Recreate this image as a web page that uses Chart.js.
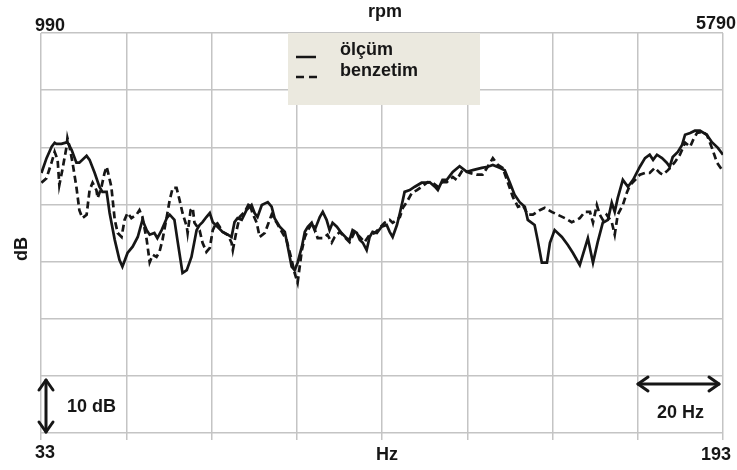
<!DOCTYPE html>
<html>
<head>
<meta charset="utf-8">
<script src="https://cdn.jsdelivr.net/npm/chart.js@4.4.1/dist/chart.umd.min.js"></script>
<style>
  html, body { margin: 0; padding: 0; background: #fff; }
  #wrap { width: 737px; height: 470px; }
</style>
</head>
<body>
<div id="wrap"><canvas id="c" width="737" height="470"></canvas></div>
<script>
// ölçüm (measurement) — solid line
const hzSolid = [33.1, 34.3, 35.5, 36.2, 36.6, 37.8, 39.2, 40.2, 41.3, 42.0, 43.7, 44.4, 45.6, 46.7, 47.4, 48.4, 49.1, 50.3, 51.4, 52.1,
  53.3, 54.5, 55.7, 56.8, 57.8, 58.5, 59.6, 60.3, 61.3, 62.5, 63.2, 64.3, 65.0, 66.2, 67.2, 68.3, 69.5, 70.2, 70.9, 71.8,
  72.6, 73.3, 74.4, 75.6, 76.8, 77.7, 78.4, 79.1, 80.1, 81.2, 82.4, 83.1, 83.8, 84.8, 86.2, 87.1, 87.8, 89.0, 90.2, 90.9,
  91.8, 92.5, 93.2, 94.2, 94.9, 95.6, 96.5, 97.2, 98.4, 99.1, 100.0, 100.7, 101.4, 102.4, 103.5, 104.7, 105.4, 106.1, 107.1, 107.8,
  108.5, 109.4, 110.1, 110.8, 111.8, 112.9, 114.1, 114.8, 115.5, 116.5, 117.2, 117.9, 118.3, 119.5, 120.7, 122.3, 123.5, 124.2, 125.4, 126.1,
  127.2, 128.2, 129.6, 131.2, 132.9, 134.3, 136.4, 137.8, 139.0, 140.6, 141.8, 143.0, 144.1, 145.3, 146.5, 147.2, 148.8, 149.5, 150.5, 151.7,
  152.4, 153.5, 155.2, 156.6, 157.8, 159.4, 161.3, 162.5, 163.6, 164.8, 166.0, 166.9, 167.6, 168.3, 169.5, 170.7, 171.9, 173.5, 174.7, 175.8,
  176.6, 177.5, 178.7, 179.8, 180.5, 181.2, 182.4, 183.4, 184.1, 185.3, 186.4, 187.6, 189.2, 190.4, 191.8, 193.0];
const dbSolid = [45.5, 48.1, 50.1, 50.8, 50.6, 50.6, 50.9, 49.5, 47.3, 47.3, 48.5, 47.8, 45.5, 43.1, 42.2, 42.2, 38.5, 33.8, 30.3, 29.1,
  31.5, 32.6, 34.3, 37.3, 35.5, 34.7, 35.0, 34.1, 35.5, 37.6, 38.2, 37.3, 33.8, 28.0, 28.5, 30.8, 35.5, 36.4, 36.9, 37.8,
  38.5, 36.9, 36.1, 35.2, 34.7, 34.3, 36.9, 37.6, 37.3, 39.0, 39.9, 38.5, 37.8, 39.9, 40.4, 39.6, 37.6, 36.1, 35.2, 32.6,
  29.1, 28.5, 29.8, 32.6, 35.2, 36.1, 36.8, 35.5, 37.8, 38.7, 37.3, 35.5, 36.8, 36.1, 35.0, 34.1, 33.8, 35.5, 35.0, 33.8,
  33.3, 32.0, 34.3, 35.2, 35.0, 36.1, 36.4, 35.2, 34.3, 36.4, 38.5, 40.8, 42.2, 42.5, 43.1, 43.8, 43.8, 43.9, 43.1, 42.5,
  44.3, 44.3, 45.7, 46.7, 45.7, 46.0, 46.4, 46.6, 46.9, 46.4, 46.0, 43.8, 41.7, 40.4, 39.6, 37.3, 36.4, 33.8, 29.8, 29.8,
  33.3, 35.5, 34.3, 32.9, 31.5, 29.4, 34.1, 29.8, 33.4, 36.8, 37.3, 40.3, 38.7, 41.1, 44.3, 43.1, 44.3, 46.6, 48.1, 48.7,
  47.8, 48.7, 48.1, 47.3, 46.6, 48.3, 49.2, 50.4, 52.2, 52.5, 52.9, 52.9, 52.2, 50.9, 49.9, 48.7];

// benzetim (simulation) — dashed line
const hzDashed = [33.1, 34.3, 35.5, 36.2, 36.9, 37.3, 38.0, 39.0, 39.2, 39.7, 40.4, 41.3, 42.0, 42.7, 43.7, 44.4, 45.1, 46.0, 46.3, 47.2,
  47.9, 48.4, 48.6, 49.5, 50.3, 51.0, 51.9, 52.6, 53.3, 54.2, 55.4, 56.1, 56.8, 57.8, 58.5, 59.2, 60.1, 60.8, 61.5, 62.5,
  63.2, 63.9, 64.8, 65.5, 66.2, 67.2, 67.4, 68.1, 68.6, 69.0, 70.2, 70.9, 71.8, 72.6, 73.3, 74.2, 74.9, 75.6, 76.8, 77.7,
  78.0, 78.9, 79.6, 80.8, 81.9, 82.6, 83.6, 84.3, 85.5, 86.2, 87.1, 88.3, 89.5, 90.6, 91.8, 92.5, 93.2, 94.2, 94.9, 95.6,
  96.7, 97.9, 99.1, 100.2, 101.2, 101.9, 103.1, 104.2, 105.4, 106.6, 107.8, 108.9, 110.1, 111.3, 112.5, 113.6, 114.8, 115.5, 116.5, 117.2,
  117.9, 118.8, 120.0, 121.2, 122.3, 123.7, 124.9, 126.1, 127.2, 128.2, 129.6, 130.5, 131.9, 133.6, 135.2, 136.6, 137.8, 139.0, 140.2, 141.3,
  142.5, 143.7, 144.9, 146.0, 147.2, 148.4, 150.0, 151.2, 152.8, 154.2, 155.9, 157.5, 158.7, 159.4, 160.6, 161.8, 162.5, 163.4, 164.1, 164.8,
  165.7, 166.9, 167.6, 168.3, 169.5, 170.5, 171.2, 172.4, 173.5, 174.7, 175.8, 177.0, 178.2, 178.9, 180.1, 181.7, 182.9, 184.1, 185.3, 186.0,
  186.9, 188.1, 189.2, 190.4, 191.6, 192.8];
const dbDashed = [43.8, 44.6, 47.4, 49.2, 47.8, 43.4, 46.0, 50.1, 51.6, 50.1, 47.3, 43.1, 39.0, 37.6, 38.2, 42.5, 43.8, 42.5, 41.1, 43.1,
  45.5, 46.6, 46.0, 43.1, 37.3, 35.0, 34.3, 37.3, 38.5, 37.6, 38.2, 39.0, 37.8, 33.8, 29.9, 31.2, 30.8, 31.7, 33.8, 37.8,
  40.8, 42.9, 42.9, 40.8, 38.5, 36.1, 35.0, 39.0, 39.4, 36.8, 35.5, 33.3, 31.7, 32.4, 35.5, 36.9, 36.1, 35.2, 34.7, 33.3,
  32.0, 35.5, 37.8, 38.7, 40.3, 38.5, 36.8, 34.3, 35.0, 36.4, 38.2, 36.8, 35.2, 33.8, 30.3, 28.0, 26.3, 32.0, 34.3, 35.5,
  36.8, 34.1, 34.1, 34.7, 33.3, 34.3, 35.2, 34.3, 33.4, 35.2, 34.3, 33.4, 34.7, 35.0, 35.9, 36.8, 37.3, 36.8, 37.3, 37.8,
  39.4, 40.4, 42.0, 42.5, 43.1, 43.9, 43.8, 43.1, 43.9, 43.9, 44.8, 44.3, 46.0, 45.5, 45.2, 45.2, 46.6, 48.1, 46.9, 46.4,
  43.9, 41.3, 39.6, 39.9, 38.2, 38.2, 39.0, 39.4, 38.7, 38.2, 37.6, 36.9, 37.3, 37.6, 38.7, 38.7, 36.8, 39.9, 38.2, 37.3,
  38.2, 36.9, 34.7, 38.2, 39.9, 42.2, 43.4, 44.3, 45.2, 45.5, 45.5, 46.4, 45.5, 45.2, 46.0, 47.4, 48.7, 50.8, 50.1, 51.3,
  52.5, 52.7, 52.2, 49.9, 47.3, 46.0];

const seriesNames = ['ölçüm', 'benzetim'];
const hzEnds = ['33', '193'];
const rpmEnds = ['990', '5790'];

const INK = '#161616';
const FONT = 'bold 18px "Liberation Sans", Arial, sans-serif';

function pts(xs, ys) {
  return xs.map((x, i) => ({ x: x, y: ys[i] }));
}

function arrowHead(ctx, x, y, dx, dy) {
  // open V head pointing along (dx, dy)
  const len = 10, w = 7;
  ctx.beginPath();
  ctx.moveTo(x - dx * len + dy * w, y - dy * len + dx * w);
  ctx.lineTo(x, y);
  ctx.lineTo(x - dx * len - dy * w, y - dy * len - dx * w);
  ctx.stroke();
}

const overlay = {
  id: 'overlay',
  afterDraw(chart) {
    const ctx = chart.ctx;
    const a = chart.chartArea;
    ctx.save();

    // legend box
    ctx.fillStyle = '#ebe9df';
    ctx.fillRect(288, a.top, 192, 72);
    ctx.strokeStyle = INK;
    ctx.lineWidth = 2.5;
    ctx.beginPath();
    ctx.moveTo(296, 57); ctx.lineTo(316, 57);
    ctx.stroke();
    ctx.setLineDash([8, 5]);
    ctx.beginPath();
    ctx.moveTo(296, 77); ctx.lineTo(320, 77);
    ctx.stroke();
    ctx.setLineDash([]);

    ctx.fillStyle = INK;
    ctx.font = FONT;
    ctx.textBaseline = 'alphabetic';
    ctx.textAlign = 'left';
    ctx.fillText(seriesNames[0], 340, 55);
    ctx.fillText(seriesNames[1], 340, 76);

    // axis end labels
    ctx.fillText(rpmEnds[0], 35, 31);
    ctx.fillText(hzEnds[0], 35, 458);
    ctx.textAlign = 'right';
    ctx.fillText(rpmEnds[1], 736, 29);
    ctx.fillText(hzEnds[1], 731, 460);
    ctx.textAlign = 'center';
    ctx.fillText('rpm', 385, 17);
    ctx.fillText('Hz', 387, 460);

    // y axis title
    ctx.save();
    ctx.translate(27, 249);
    ctx.rotate(-Math.PI / 2);
    ctx.fillText('dB', 0, 0);
    ctx.restore();

    // scale arrows
    ctx.lineWidth = 3;
    ctx.lineCap = 'round';
    ctx.lineJoin = 'round';
    ctx.beginPath();
    ctx.moveTo(46, 380); ctx.lineTo(46, 432);
    ctx.stroke();
    arrowHead(ctx, 46, 380, 0, -1);
    arrowHead(ctx, 46, 432, 0, 1);
    ctx.beginPath();
    ctx.moveTo(638, 384); ctx.lineTo(719, 384);
    ctx.stroke();
    arrowHead(ctx, 638, 384, -1, 0);
    arrowHead(ctx, 719, 384, 1, 0);

    ctx.textAlign = 'left';
    ctx.fillText('10 dB', 67, 412);
    ctx.fillText('20 Hz', 657, 418);
    ctx.restore();
  }
};

new Chart(document.getElementById('c'), {
  type: 'line',
  data: {
    datasets: [
      {
        label: seriesNames[0],
        data: pts(hzSolid, dbSolid),
        borderColor: INK,
        borderWidth: 2.7,
        pointRadius: 0,
        tension: 0,
        fill: false,
      },
      {
        label: seriesNames[1],
        data: pts(hzDashed, dbDashed),
        borderColor: INK,
        borderWidth: 2.7,
        borderDash: [7, 4],
        pointRadius: 0,
        tension: 0,
        fill: false,
      },
    ],
  },
  options: {
    responsive: false,
    animation: false,
    devicePixelRatio: 1,
    layout: { padding: { left: 41, top: 33, right: 14, bottom: 30 } },
    scales: {
      x: {
        type: 'linear',
        min: 33,
        max: 193,
        ticks: { display: false, stepSize: 20 },
        grid: { color: '#c4c4c4', lineWidth: 1.5, drawTicks: true, tickLength: 7 },
        border: { display: false },
        afterFit: (s) => { s.height = 7; },
      },
      y: {
        min: 0,
        max: 70,
        ticks: { display: false, stepSize: 10 },
        grid: { color: '#c4c4c4', lineWidth: 1.5, drawTicks: false },
        border: { display: false },
        afterFit: (s) => { s.width = 0; },
      },
    },
    plugins: {
      legend: { display: false },
      tooltip: { enabled: false },
    },
  },
  plugins: [overlay],
});
</script>
</body>
</html>
